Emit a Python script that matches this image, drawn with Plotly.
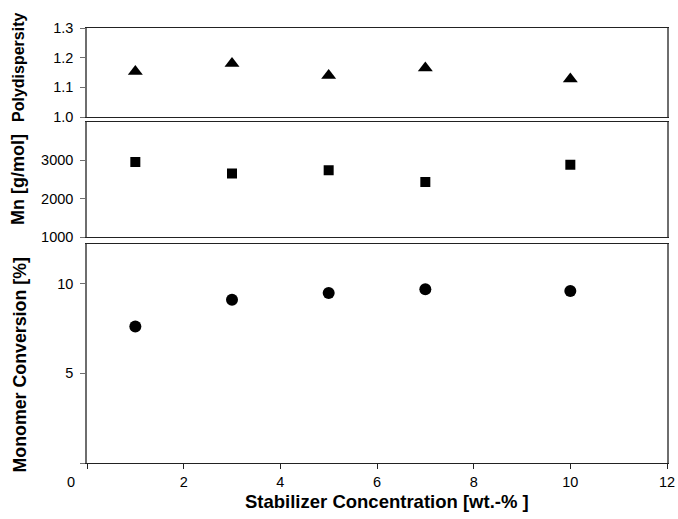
import plotly.graph_objects as go

conc = [1, 3, 5, 7, 10]
polydispersity = [1.153, 1.18, 1.14, 1.165, 1.128]
mn = [2950, 2650, 2740, 2430, 2880]
conversion = [7.6, 9.1, 9.47, 9.68, 9.58]

x_ticks = [0, 2, 4, 6, 8, 10, 12]
x_ticktext = ["", "2", "4", "6", "8", "10", "12"]

FONT = "Liberation Sans"
AXC = "#6e6e6e"
TICKFONT = dict(family=FONT, size=14.5, color="black")

fig = go.Figure()
fig.add_trace(go.Scatter(x=conc, y=polydispersity, mode="markers", xaxis="x", yaxis="y",
                         marker=dict(symbol="triangle-up", size=13, color="black")))
fig.add_trace(go.Scatter(x=conc, y=mn, mode="markers", xaxis="x2", yaxis="y2",
                         marker=dict(symbol="square", size=10, color="black")))
fig.add_trace(go.Scatter(x=conc, y=conversion, mode="markers", xaxis="x3", yaxis="y3",
                         marker=dict(symbol="circle", size=12, color="black")))

common_x = dict(range=[0, 12], showgrid=False, zeroline=False, showline=True,
                linecolor="#222222", linewidth=1.2, mirror=True, automargin=False)
common_y = dict(showgrid=False, zeroline=False, showline=True, linecolor=AXC,
                linewidth=1.5, mirror=True, ticks="outside", ticklen=5, tickcolor=AXC,
                tickfont=TICKFONT, automargin=False, ticklabelstandoff=4)

fig.update_layout(
    width=678, height=519,
    margin=dict(l=87, r=11, t=28, b=56),
    paper_bgcolor="white", plot_bgcolor="white",
    showlegend=False,
    font=dict(family=FONT, color="black"),
    xaxis=dict(**common_x, domain=[0, 1], anchor="y", showticklabels=False, ticks=""),
    xaxis2=dict(**common_x, domain=[0, 1], anchor="y2", showticklabels=False, ticks="", matches="x"),
    xaxis3=dict(**common_x, domain=[0, 1], anchor="y3", matches="x",
                tickvals=x_ticks, ticktext=x_ticktext, ticks="outside", ticklen=5,
                tickcolor="#222222", tickfont=TICKFONT, ticklabelstandoff=0),
    yaxis=dict(**common_y, domain=[0.7954, 1], anchor="x", range=[1.0, 1.3],
               tickvals=[1.0, 1.1, 1.2, 1.3], ticktext=["1.0", "1.1", "1.2", "1.3"]),
    yaxis2=dict(**common_y, domain=[0.5195, 0.7846], anchor="x2", range=[1000, 4000],
                tickvals=[1000, 2000, 3000], ticktext=["1000", "2000", "3000"]),
    yaxis3=dict(**common_y, domain=[0, 0.5034], anchor="x3", range=[0, 12.2],
                tickvals=[0, 5, 10], ticktext=["", "5", "10"]),
)

PLOT_W = 678 - 87 - 11
PLOT_H = 519 - 28 - 56


def px_x(px):
    return (px - 87) / PLOT_W


def px_y(py):
    return (519 - 56 - py) / PLOT_H


titles = [
    ("<b>Polydispersity</b>", 18, 68, 16),
    ("<b>Mn [g/mol]</b>", 18, 180, 18),
    ("<b>Monomer Conversion [%]</b>", 19, 365.5, 17.8),
]
for text, cx, cy, size in titles:
    fig.add_annotation(x=px_x(cx), y=px_y(cy), xref="paper", yref="paper", text=text,
                       showarrow=False, textangle=-90, xanchor="center", yanchor="middle",
                       font=dict(family=FONT, size=size, color="black"))

fig.add_annotation(x=px_x(387), y=px_y(501), xref="paper", yref="paper",
                   text="<b>Stabilizer Concentration [wt.-% ]</b>", showarrow=False,
                   xanchor="center", yanchor="middle",
                   font=dict(family=FONT, size=18.5, color="black"))

fig.add_annotation(x=px_x(70.7), y=px_y(482), xref="paper", yref="paper", text="0",
                   showarrow=False, xanchor="center", yanchor="middle", font=TICKFONT)

fig.write_html("out.html", config={"displayModeBar": False},
               post_script="document.body.style.margin='0';")
